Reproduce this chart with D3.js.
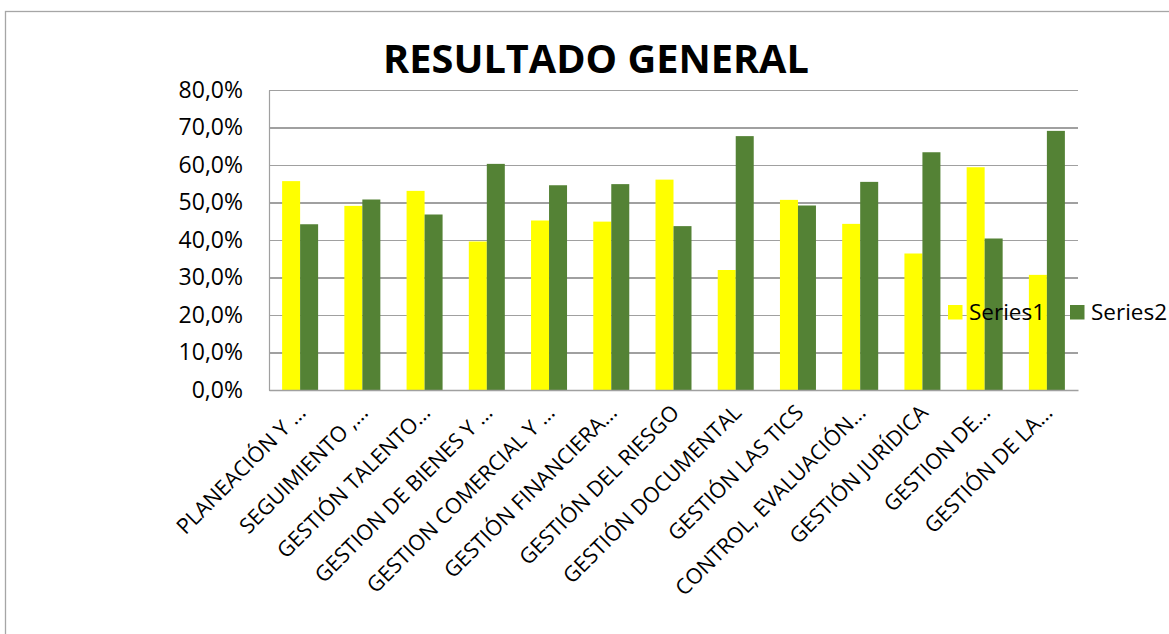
<!DOCTYPE html>
<html lang="es">
<head>
    <meta charset="UTF-8">
    <title>Resultado General</title>
    <script src="https://d3js.org/d3.v7.min.js"></script>
    <style>
        html, body { margin: 0; padding: 0; background: #ffffff; }
        svg text { font-family: 'Open Sans', sans-serif; fill: #000000; }
    </style>
</head>
<body>
    <div id="chart"></div>

    <script>
        // data
        const categories = [
            'PLANEACIÓN Y …',
            'SEGUIMIENTO ,…',
            'GESTIÓN TALENTO…',
            'GESTION DE BIENES Y …',
            'GESTION COMERCIAL Y …',
            'GESTIÓN FINANCIERA…',
            'GESTIÓN DEL RIESGO',
            'GESTIÓN DOCUMENTAL',
            'GESTIÓN LAS TICS',
            'CONTROL, EVALUACIÓN…',
            'GESTIÓN JURÍDICA',
            'GESTION DE…',
            'GESTIÓN DE LA…'
        ];
        const seriesNames = ['Series1', 'Series2'];
        const series1 = [0.557, 0.491, 0.531, 0.396, 0.452, 0.449, 0.561, 0.320, 0.507, 0.443, 0.364, 0.594, 0.307];
        const series2 = [0.442, 0.508, 0.468, 0.603, 0.546, 0.549, 0.437, 0.677, 0.492, 0.555, 0.634, 0.404, 0.691];
        const yTicks = [0, 0.1, 0.2, 0.3, 0.4, 0.5, 0.6, 0.7, 0.8];

        const config = {
            width: 1169,
            height: 634,
            plot: { left: 269, top: 90, right: 1078, bottom: 390 },
            colors: {
                Series1: '#ffff00',
                Series2: '#548235',
                grid: '#a0a0a0',
                border: '#a6a6a6'
            }
        };

        const pct = d3.formatLocale({ decimal: ',', thousands: '.', grouping: [3], currency: ['', '€'] }).format('.1%');

        function drawChart() {
            const svg = d3.select('#chart').append('svg')
                .attr('width', config.width)
                .attr('height', config.height);

            // outer chart frame (only top and left edges are inside the picture)
            svg.append('rect')
                .attr('x', 5.5)
                .attr('y', 11.5)
                .attr('width', config.width + 20)
                .attr('height', config.height + 20)
                .attr('fill', 'none')
                .attr('stroke', config.colors.border)
                .attr('stroke-width', 1.3);

            const p = config.plot;

            const x = d3.scaleBand()
                .domain(categories)
                .range([p.left, p.right])
                .padding(0);

            const groupWidth = 36;
            const x1 = d3.scaleBand()
                .domain(seriesNames)
                .range([0, groupWidth]);

            const y = d3.scaleLinear()
                .domain([0, 0.8])
                .range([p.bottom, p.top]);

            // grid lines
            svg.append('g')
                .attr('transform', `translate(${p.left},0)`)
                .call(d3.axisLeft(y).tickValues(yTicks).tickSize(-(p.right - p.left)).tickFormat(''))
                .call(g => g.select('.domain').remove())
                .selectAll('line')
                .attr('stroke', config.colors.grid)
                .attr('stroke-width', 1.2)
                .attr('shape-rendering', 'crispEdges');

            // y axis line + labels
            const yAxis = svg.append('g')
                .attr('transform', `translate(${p.left},0)`)
                .call(d3.axisLeft(y).tickValues(yTicks).tickSize(0).tickPadding(26).tickFormat(pct));
            yAxis.select('.domain')
                .attr('stroke', config.colors.grid)
                .attr('stroke-width', 1.2);
            yAxis.selectAll('text')
                .attr('font-size', '23px')
                .attr('font-family', "'Open Sans', sans-serif")
                .attr('fill', '#000');

            // bars
            const rows = categories.map((c, i) => ({ category: c, values: [series1[i], series2[i]] }));
            const groups = svg.append('g').selectAll('g')
                .data(rows)
                .join('g')
                .attr('transform', d => `translate(${x(d.category) + (x.bandwidth() - groupWidth) / 2},0)`);

            groups.selectAll('rect')
                .data(d => d.values.map((v, k) => ({ name: seriesNames[k], value: v })))
                .join('rect')
                .attr('x', d => x1(d.name))
                .attr('width', x1.bandwidth())
                .attr('y', d => y(d.value))
                .attr('height', d => y(0) - y(d.value))
                .attr('fill', d => config.colors[d.name]);

            // x axis line
            const xAxis = svg.append('g')
                .attr('transform', `translate(0,${p.bottom})`)
                .call(d3.axisBottom(x).tickSize(0).tickFormat(''));
            xAxis.select('.domain')
                .attr('stroke', config.colors.grid)
                .attr('stroke-width', 1.5);

            // rotated category labels
            svg.append('g').selectAll('text')
                .data(categories)
                .join('text')
                .attr('transform', d => `translate(${x(d) + x.bandwidth() / 2 + 7},414) rotate(-45)`)
                .attr('text-anchor', 'end')
                .attr('font-size', '21.5px')
                .text(d => d);

            // title
            svg.append('text')
                .attr('x', 596)
                .attr('y', 73)
                .attr('text-anchor', 'middle')
                .attr('font-size', '39.7px')
                .attr('font-weight', 'bold')
                .text('RESULTADO GENERAL');

            // legend
            const legendX = [948, 1070];
            const legend = svg.append('g').selectAll('g')
                .data(seriesNames)
                .join('g')
                .attr('transform', (d, i) => `translate(${legendX[i]},305)`);
            legend.append('rect')
                .attr('width', 14.5)
                .attr('height', 14.5)
                .attr('fill', d => config.colors[d]);
            legend.append('text')
                .attr('x', 21)
                .attr('y', 15)
                .attr('font-size', '22.5px')
                .text(d => d);
        }

        document.addEventListener('DOMContentLoaded', drawChart);
    </script>
</body>
</html>
